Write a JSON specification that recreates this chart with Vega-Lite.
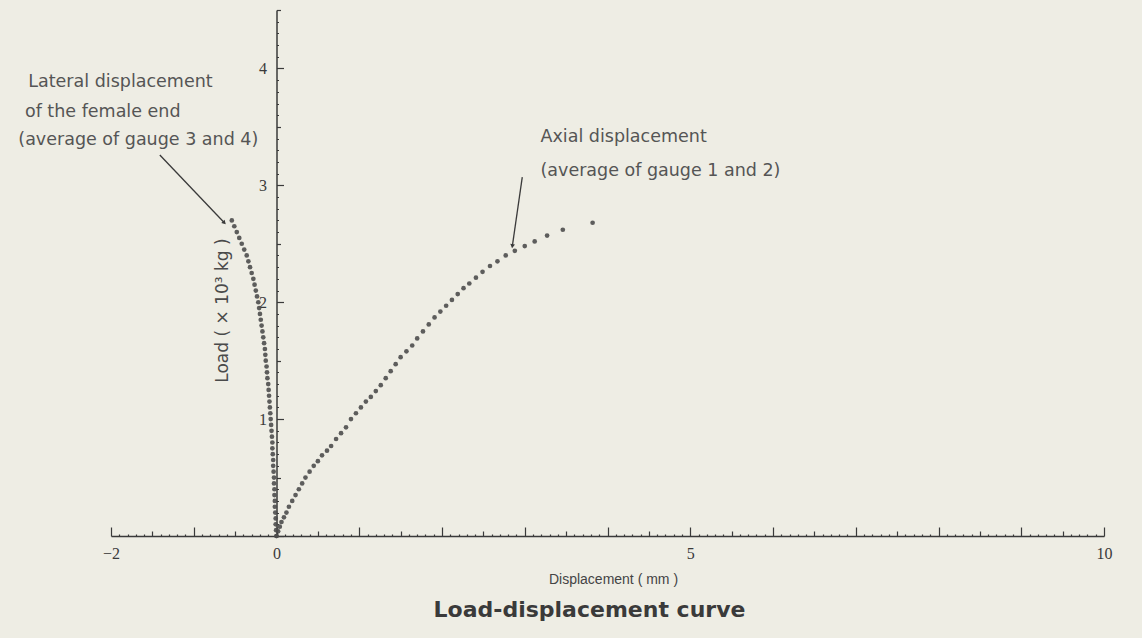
{
  "$schema": "https://vega.github.io/schema/vega-lite/v6.json",
  "width": 993,
  "height": 526,
  "autosize": {"type": "none"},
  "padding": {"left": 111, "top": 10, "right": 38, "bottom": 102},
  "background": "#eeede4",
  "config": {"view": {"stroke": null}},
  "title": {
    "text": "Load-displacement curve",
    "orient": "bottom",
    "anchor": "middle",
    "dx": -18,
    "offset": 14,
    "font": "DejaVu Sans",
    "fontSize": 22,
    "fontWeight": "bold",
    "color": "#3a3a3a"
  },
  "datasets": {
    "curves": [
      {"series": "axial", "d": 0.00, "load": 0.00},
      {"series": "axial", "d": 0.02, "load": 0.04},
      {"series": "axial", "d": 0.04, "load": 0.08},
      {"series": "axial", "d": 0.06, "load": 0.12},
      {"series": "axial", "d": 0.09, "load": 0.16},
      {"series": "axial", "d": 0.12, "load": 0.20},
      {"series": "axial", "d": 0.15, "load": 0.25},
      {"series": "axial", "d": 0.19, "load": 0.30},
      {"series": "axial", "d": 0.23, "load": 0.35},
      {"series": "axial", "d": 0.27, "load": 0.40},
      {"series": "axial", "d": 0.31, "load": 0.45},
      {"series": "axial", "d": 0.35, "load": 0.50},
      {"series": "axial", "d": 0.40, "load": 0.55},
      {"series": "axial", "d": 0.45, "load": 0.60},
      {"series": "axial", "d": 0.50, "load": 0.64},
      {"series": "axial", "d": 0.55, "load": 0.69},
      {"series": "axial", "d": 0.61, "load": 0.73},
      {"series": "axial", "d": 0.66, "load": 0.77},
      {"series": "axial", "d": 0.72, "load": 0.83},
      {"series": "axial", "d": 0.78, "load": 0.88},
      {"series": "axial", "d": 0.84, "load": 0.93},
      {"series": "axial", "d": 0.90, "load": 1.00},
      {"series": "axial", "d": 0.96, "load": 1.05},
      {"series": "axial", "d": 1.02, "load": 1.10},
      {"series": "axial", "d": 1.08, "load": 1.15},
      {"series": "axial", "d": 1.14, "load": 1.19},
      {"series": "axial", "d": 1.20, "load": 1.24},
      {"series": "axial", "d": 1.26, "load": 1.29},
      {"series": "axial", "d": 1.32, "load": 1.35},
      {"series": "axial", "d": 1.38, "load": 1.41},
      {"series": "axial", "d": 1.44, "load": 1.47},
      {"series": "axial", "d": 1.50, "load": 1.53},
      {"series": "axial", "d": 1.57, "load": 1.58},
      {"series": "axial", "d": 1.64, "load": 1.63},
      {"series": "axial", "d": 1.70, "load": 1.69},
      {"series": "axial", "d": 1.77, "load": 1.75},
      {"series": "axial", "d": 1.84, "load": 1.81},
      {"series": "axial", "d": 1.91, "load": 1.87},
      {"series": "axial", "d": 1.98, "load": 1.92},
      {"series": "axial", "d": 2.05, "load": 1.97},
      {"series": "axial", "d": 2.12, "load": 2.02},
      {"series": "axial", "d": 2.19, "load": 2.07},
      {"series": "axial", "d": 2.26, "load": 2.12},
      {"series": "axial", "d": 2.33, "load": 2.16},
      {"series": "axial", "d": 2.41, "load": 2.21},
      {"series": "axial", "d": 2.49, "load": 2.26},
      {"series": "axial", "d": 2.58, "load": 2.31},
      {"series": "axial", "d": 2.67, "load": 2.35},
      {"series": "axial", "d": 2.77, "load": 2.40},
      {"series": "axial", "d": 2.88, "load": 2.44},
      {"series": "axial", "d": 3.00, "load": 2.48},
      {"series": "axial", "d": 3.12, "load": 2.52},
      {"series": "axial", "d": 3.27, "load": 2.57},
      {"series": "axial", "d": 3.46, "load": 2.62},
      {"series": "axial", "d": 3.82, "load": 2.68},
      {"series": "lateral", "d": 0.000, "load": 0.00},
      {"series": "lateral", "d": -0.005, "load": 0.05},
      {"series": "lateral", "d": -0.010, "load": 0.10},
      {"series": "lateral", "d": -0.010, "load": 0.15},
      {"series": "lateral", "d": -0.015, "load": 0.20},
      {"series": "lateral", "d": -0.020, "load": 0.25},
      {"series": "lateral", "d": -0.020, "load": 0.30},
      {"series": "lateral", "d": -0.025, "load": 0.35},
      {"series": "lateral", "d": -0.025, "load": 0.40},
      {"series": "lateral", "d": -0.030, "load": 0.45},
      {"series": "lateral", "d": -0.030, "load": 0.50},
      {"series": "lateral", "d": -0.035, "load": 0.55},
      {"series": "lateral", "d": -0.040, "load": 0.60},
      {"series": "lateral", "d": -0.040, "load": 0.65},
      {"series": "lateral", "d": -0.045, "load": 0.70},
      {"series": "lateral", "d": -0.050, "load": 0.75},
      {"series": "lateral", "d": -0.050, "load": 0.80},
      {"series": "lateral", "d": -0.055, "load": 0.85},
      {"series": "lateral", "d": -0.060, "load": 0.90},
      {"series": "lateral", "d": -0.065, "load": 0.95},
      {"series": "lateral", "d": -0.070, "load": 1.00},
      {"series": "lateral", "d": -0.075, "load": 1.05},
      {"series": "lateral", "d": -0.080, "load": 1.10},
      {"series": "lateral", "d": -0.085, "load": 1.15},
      {"series": "lateral", "d": -0.090, "load": 1.20},
      {"series": "lateral", "d": -0.095, "load": 1.25},
      {"series": "lateral", "d": -0.100, "load": 1.30},
      {"series": "lateral", "d": -0.110, "load": 1.35},
      {"series": "lateral", "d": -0.115, "load": 1.40},
      {"series": "lateral", "d": -0.120, "load": 1.45},
      {"series": "lateral", "d": -0.130, "load": 1.50},
      {"series": "lateral", "d": -0.135, "load": 1.55},
      {"series": "lateral", "d": -0.140, "load": 1.60},
      {"series": "lateral", "d": -0.150, "load": 1.65},
      {"series": "lateral", "d": -0.160, "load": 1.70},
      {"series": "lateral", "d": -0.170, "load": 1.75},
      {"series": "lateral", "d": -0.180, "load": 1.80},
      {"series": "lateral", "d": -0.190, "load": 1.85},
      {"series": "lateral", "d": -0.200, "load": 1.90},
      {"series": "lateral", "d": -0.210, "load": 1.95},
      {"series": "lateral", "d": -0.220, "load": 2.00},
      {"series": "lateral", "d": -0.235, "load": 2.05},
      {"series": "lateral", "d": -0.250, "load": 2.10},
      {"series": "lateral", "d": -0.265, "load": 2.15},
      {"series": "lateral", "d": -0.280, "load": 2.20},
      {"series": "lateral", "d": -0.300, "load": 2.25},
      {"series": "lateral", "d": -0.320, "load": 2.30},
      {"series": "lateral", "d": -0.340, "load": 2.35},
      {"series": "lateral", "d": -0.360, "load": 2.40},
      {"series": "lateral", "d": -0.390, "load": 2.45},
      {"series": "lateral", "d": -0.420, "load": 2.50},
      {"series": "lateral", "d": -0.450, "load": 2.55},
      {"series": "lateral", "d": -0.480, "load": 2.60},
      {"series": "lateral", "d": -0.510, "load": 2.65},
      {"series": "lateral", "d": -0.540, "load": 2.70}
    ],
    "notes": [
      {"d": -3.00, "load": 3.88, "text": "Lateral displacement"},
      {"d": -3.04, "load": 3.63, "text": "of the female end"},
      {"d": -3.12, "load": 3.39, "text": "(average of gauge 3 and 4)"},
      {"d": 3.19, "load": 3.41, "text": "Axial displacement"},
      {"d": 3.19, "load": 3.12, "text": "(average of gauge 1 and 2)"}
    ],
    "arrows": [
      {"name": "lateral", "d": -1.41, "load": 3.26, "d2": -0.63, "load2": 2.68},
      {"name": "axial", "d": 2.97, "load": 3.07, "d2": 2.85, "load2": 2.48}
    ]
  },
  "encoding": {
    "x": {
      "field": "d",
      "type": "quantitative",
      "scale": {"domain": [-2, 10], "nice": false, "zero": false},
      "axis": {
        "title": "Displacement ( mm )",
        "titleFont": "Liberation Sans",
        "titleFontSize": 14,
        "titleFontWeight": "normal",
        "titleColor": "#444444",
        "titleX": 502,
        "titleY": 43,
        "titleBaseline": "middle",
        "titleAnchor": null,
        "grid": false,
        "domainColor": "#3a3a3a",
        "domainWidth": 1.5,
        "tickColor": "#3a3a3a",
        "tickWidth": 1.2,
        "tickCount": 1000,
        "tickMinStep": 0.01,
        "tickSize": {"condition": [
          {"test": "abs(datum.value - round(datum.value)) < 0.001", "value": -9},
          {"test": "abs(datum.value * 2 - round(datum.value * 2)) < 0.001", "value": -5}
        ], "value": -2},
        "values": [-2,-1.9,-1.8,-1.7,-1.6,-1.5,-1.4,-1.3,-1.2,-1.1,-1,-0.9,-0.8,-0.7,-0.6,-0.5,-0.4,-0.3,-0.2,-0.1,0,0.1,0.2,0.3,0.4,0.5,0.6,0.7,0.8,0.9,1,1.1,1.2,1.3,1.4,1.5,1.6,1.7,1.8,1.9,2,2.1,2.2,2.3,2.4,2.5,2.6,2.7,2.8,2.9,3,3.1,3.2,3.3,3.4,3.5,3.6,3.7,3.8,3.9,4,4.1,4.2,4.3,4.4,4.5,4.6,4.7,4.8,4.9,5,5.1,5.2,5.3,5.4,5.5,5.6,5.7,5.8,5.9,6,6.1,6.2,6.3,6.4,6.5,6.6,6.7,6.8,6.9,7,7.1,7.2,7.3,7.4,7.5,7.6,7.7,7.8,7.9,8,8.1,8.2,8.3,8.4,8.5,8.6,8.7,8.8,8.9,9,9.1,9.2,9.3,9.4,9.5,9.6,9.7,9.8,9.9,10],
        "labelExpr": "indexof([-2,0,5,10], datum.value) >= 0 ? format(datum.value, 'd') : ''",
        "labelFont": "Liberation Serif",
        "labelFontSize": 16,
        "labelColor": "#3a3a3a",
        "labelPadding": 18,
        "labelFlush": false,
        "labelOverlap": false
      }
    },
    "y": {
      "field": "load",
      "type": "quantitative",
      "scale": {"domain": [0, 4.5], "nice": false, "zero": false},
      "axis": {
        "title": "Load ( × 10³ kg )",
        "titleFont": "DejaVu Sans",
        "titleFontSize": 17,
        "titleFontWeight": "normal",
        "titleColor": "#4a4a4a",
        "titleX": -54,
        "titleY": 300,
        "titleAngle": -90,
        "titleAlign": "center",
        "titleBaseline": "middle",
        "titleAnchor": null,
        "offset": -165.5,
        "grid": false,
        "domainColor": "#3a3a3a",
        "domainWidth": 1.5,
        "tickColor": "#3a3a3a",
        "tickWidth": 1.2,
        "tickCount": 1000,
        "tickMinStep": 0.01,
        "tickSize": {"condition": [
          {"test": "abs(datum.value - round(datum.value)) < 0.001", "value": -7},
          {"test": "abs(datum.value * 2 - round(datum.value * 2)) < 0.001", "value": -4}
        ], "value": -2},
        "values": [0,0.1,0.2,0.3,0.4,0.5,0.6,0.7,0.8,0.9,1,1.1,1.2,1.3,1.4,1.5,1.6,1.7,1.8,1.9,2,2.1,2.2,2.3,2.4,2.5,2.6,2.7,2.8,2.9,3,3.1,3.2,3.3,3.4,3.5,3.6,3.7,3.8,3.9,4,4.1,4.2,4.3,4.4,4.5],
        "labelExpr": "indexof([1,2,3,4], datum.value) >= 0 ? format(datum.value, 'd') : ''",
        "labelFont": "Liberation Serif",
        "labelFontSize": 16,
        "labelColor": "#3a3a3a",
        "labelPadding": 17,
        "labelFlush": false,
        "labelOverlap": false
      }
    }
  },
  "layer": [
    {
      "data": {"name": "curves"},
      "mark": {"type": "point", "shape": "circle", "filled": true, "size": 22, "color": "#4d4d4d", "opacity": 0.9}
    },
    {
      "data": {"name": "arrows"},
      "mark": {"type": "rule", "color": "#3a3a3a", "strokeWidth": 1.3},
      "encoding": {
        "x2": {"field": "d2"},
        "y2": {"field": "load2"}
      }
    },
    {
      "data": {"name": "arrows"},
      "transform": [{"filter": "datum.name == 'lateral'"}],
      "mark": {"type": "point", "shape": "triangle-up", "filled": true, "size": 22, "angle": 136, "color": "#3a3a3a", "opacity": 1},
      "encoding": {
        "x": {"field": "d2", "type": "quantitative"},
        "y": {"field": "load2", "type": "quantitative"}
      }
    },
    {
      "data": {"name": "arrows"},
      "transform": [{"filter": "datum.name == 'axial'"}],
      "mark": {"type": "point", "shape": "triangle-up", "filled": true, "size": 22, "angle": 188, "color": "#3a3a3a", "opacity": 1},
      "encoding": {
        "x": {"field": "d2", "type": "quantitative"},
        "y": {"field": "load2", "type": "quantitative"}
      }
    },
    {
      "data": {"name": "notes"},
      "mark": {"type": "text", "align": "left", "baseline": "middle", "font": "DejaVu Sans", "fontSize": 17.5, "color": "#555555"},
      "encoding": {
        "text": {"field": "text"}
      }
    }
  ]
}
